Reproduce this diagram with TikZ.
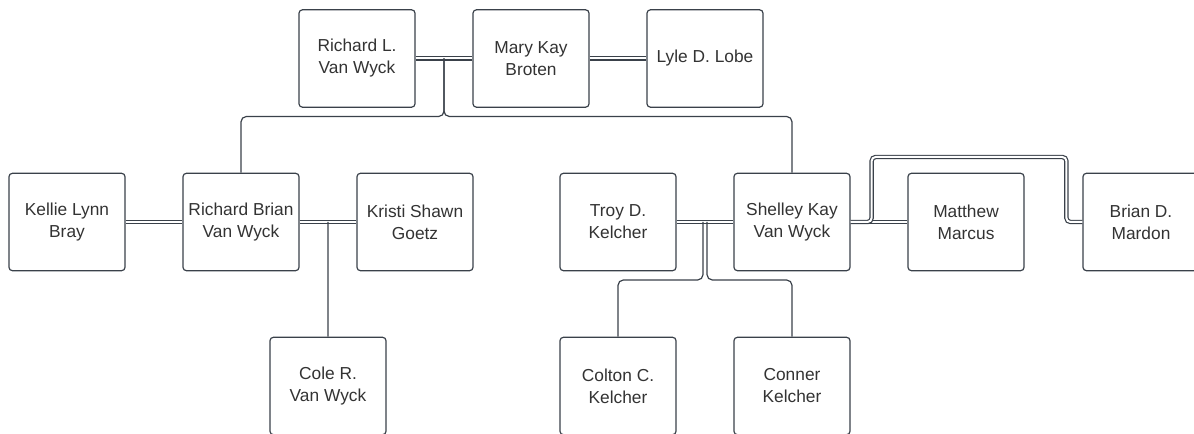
\documentclass[tikz,border=0pt]{standalone}
\usepackage{fontspec}
\setmainfont{Liberation Sans}
\usepackage{tikz}
\usetikzlibrary{positioning,calc}
\definecolor{edgegray}{HTML}{3A414A}
\definecolor{textgray}{HTML}{333333}

\begin{document}
\begin{tikzpicture}[x=0.75pt,y=-0.75pt]
	\tikzset{person/.style={draw=edgegray,fill=white,line width=0.9pt,rounded corners=2.5pt,
			minimum width=87pt,minimum height=73pt,align=center,text=textgray,
			font=\fontsize{13}{16.5}\selectfont},
		wed/.style={draw=edgegray,line width=0.9pt,double=white,double distance=1.5pt,rounded corners=3pt},
		kid/.style={draw=edgegray,line width=0.9pt,rounded corners=4pt}}
	\clip (0,0) rectangle (1194,434);
	% grandparents
	\node[person] (rl) at (357,58.5) {Richard L.\\Van Wyck};
	\node[person] (mk) at (531,58.5) {Mary Kay\\Broten};
	\node[person] (ld) at (705,58.5) {Lyle D. Lobe};
	% children and spouses
	\node[person] (kb) at (67,222) {Kellie Lynn\\Bray};
	\node[person] (rb) at (241,222) {Richard Brian\\Van Wyck};
	\node[person] (kg) at (415,222) {Kristi Shawn\\Goetz};
	\node[person] (tk) at (618,222) {Troy D.\\Kelcher};
	\node[person] (sk) at (792,222) {Shelley Kay\\Van Wyck};
	\node[person] (mm) at (966,222) {Matthew\\Marcus};
	\node[person] (bm) at (1141,222) {Brian D.\\Mardon};
	% grandchildren
	\node[person] (cr) at (328,386) {Cole R.\\Van Wyck};
	\node[person] (ck) at (618,386) {Colton C.\\Kelcher};
	\node[person] (ek) at (792,386) {Conner\\Kelcher};
	% marriages
	\draw[wed] (rl) -- (mk);
	\draw[wed] (mk) -- (ld);
	\draw[wed] (kb) -- (rb);
	\draw[wed] (rb) -- (kg);
	\draw[wed] (tk) -- (sk);
	\draw[wed] (sk) -- (mm);
	\draw[wed] (sk.east) -- ++(21,0) -- ++(0,-65) -| ($(bm.west)+(-16,0)$) -- (bm.west);
	% descent
	\coordinate (m1) at ($(rl.east)!.5!(mk.west)$);
	\coordinate (bus1) at ($(m1)+(0,58)$);
	\draw[kid] (m1) -- (bus1) -| (rb.north);
	\draw[kid] (m1) -- (bus1) -| (sk.north);
	\coordinate (m2) at ($(rb.east)!.5!(kg.west)$);
	\draw[kid] (m2) -- (cr.north);
	\coordinate (m3) at ($(tk.east)!.5!(sk.west)$);
	\draw[kid] ($(m3)+(-2,0)$) -- ++(0,58) -| (ck.north);
	\draw[kid] ($(m3)+(2,0)$) -- ++(0,58) -| (ek.north);
\end{tikzpicture}
\end{document}
